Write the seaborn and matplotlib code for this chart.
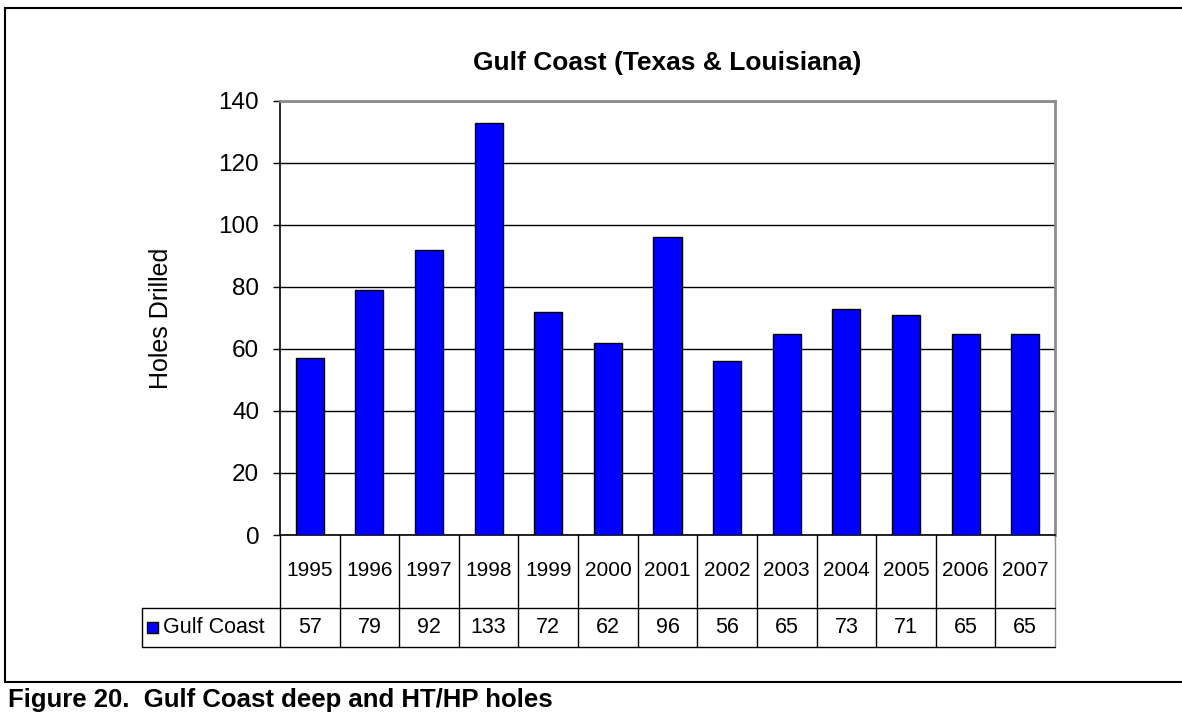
import matplotlib
matplotlib.use("Agg")
import matplotlib.pyplot as plt
from matplotlib.lines import Line2D
from matplotlib.patches import Rectangle
from matplotlib.transforms import blended_transform_factory
import seaborn as sns
import pandas as pd

# Holes drilled per year
years = ["1995", "1996", "1997", "1998", "1999", "2000", "2001",
         "2002", "2003", "2004", "2005", "2006", "2007"]
holes = [57, 79, 92, 133, 72, 62, 96, 56, 65, 73, 71, 65, 65]
series_name = "Gulf Coast"
y_ticks = [0, 20, 40, 60, 80, 100, 120, 140]

sns.set_theme(style="white")
plt.rcParams["font.family"] = ["Liberation Sans", "DejaVu Sans"]
for key in ["text.color", "axes.labelcolor", "xtick.color", "ytick.color"]:
    plt.rcParams[key] = "black"

W, H = 1182, 713
fig = plt.figure(figsize=(W / 100, H / 100), dpi=100)
fig.patch.set_facecolor("white")

# plot area in pixel terms
px_left, px_right, px_top, px_bottom = 280, 1055, 101, 535
ax = fig.add_axes([px_left / W, 1 - px_bottom / H,
                   (px_right - px_left) / W, (px_bottom - px_top) / H])

df = pd.DataFrame({"year": years, "holes": holes})
sns.barplot(data=df, x="year", y="holes", color="#0000FF", saturation=1,
            edgecolor="black", linewidth=1.0, width=0.47, ax=ax, zorder=3)

ax.set_xlim(-0.5, len(years) - 0.5)
ax.set_ylim(0, 140)
ax.set_yticks(y_ticks)
ax.set_yticklabels([str(t) for t in y_ticks], fontsize=17.5)
ax.tick_params(axis="y", direction="out", length=5, width=1, color="black",
               pad=10, left=True)
ax.tick_params(axis="x", bottom=False, labelbottom=False)
ax.set_xlabel("")
ax.set_ylabel("Holes Drilled", fontsize=18, labelpad=33)

ax.yaxis.grid(True, color="black", linewidth=1.0, zorder=0)
ax.set_axisbelow(True)
for side in ["top", "right"]:
    ax.spines[side].set_color("#8c8c8c")
    ax.spines[side].set_linewidth(2)
ax.spines["left"].set_color("black")
ax.spines["left"].set_linewidth(1.2)
ax.spines["bottom"].set_color("black")
ax.spines["bottom"].set_linewidth(1.2)

ax.set_title("Gulf Coast (Texas & Louisiana)", fontsize=19,
             fontweight="bold", pad=22)

# data table under the axis
plot_h = px_bottom - px_top
plot_w = px_right - px_left
def ay(py):
    return (px_bottom - py) / plot_h
def ax_x(px):
    return (px - px_left) / plot_w

row1_bot = ay(608)
row2_bot = ay(647)
leg_left = ax_x(142)
bt = blended_transform_factory(ax.transData, ax.transAxes)
line_kw = dict(color="black", linewidth=1.0, clip_on=False)

# column separators
for i in range(len(years) + 1):
    xb = i - 0.5
    col = "#8c8c8c" if i == len(years) else "black"
    ax.add_line(Line2D([xb, xb], [0, row2_bot], transform=bt,
                       **{**line_kw, "color": col}))
# horizontal rules
ax.add_line(Line2D([leg_left, 1], [row1_bot, row1_bot],
                   transform=ax.transAxes, **line_kw))
ax.add_line(Line2D([leg_left, 1], [row2_bot, row2_bot],
                   transform=ax.transAxes, **line_kw))
ax.add_line(Line2D([leg_left, leg_left], [row1_bot, row2_bot],
                   transform=ax.transAxes, **line_kw))

mid1 = ay(571)
mid2 = ay(627.5)
for i, (yr, v) in enumerate(zip(years, holes)):
    ax.text(i, mid1, yr, transform=bt, ha="center", va="center", fontsize=15)
    ax.text(i, mid2, str(v), transform=bt, ha="center", va="center",
            fontsize=15.5)

# legend key in the table
ax.add_patch(Rectangle((ax_x(147), ay(633)), 11 / plot_w, 11 / plot_h,
                       transform=ax.transAxes, facecolor="#0000FF",
                       edgecolor="black", linewidth=1.0, clip_on=False))
ax.text(ax_x(163), mid2, series_name, transform=ax.transAxes,
        ha="left", va="center", fontsize=15.5)

# frame around the chart
def fx(px):
    return px / W
def fy(py):
    return 1 - py / H
fig.add_artist(Line2D([fx(5), fx(5)], [fy(8), fy(682)], color="black",
                      linewidth=1.5, transform=fig.transFigure))
fig.add_artist(Line2D([fx(5), 1], [fy(8), fy(8)], color="black",
                      linewidth=1.5, transform=fig.transFigure))
fig.add_artist(Line2D([fx(5), 1], [fy(682), fy(682)], color="black",
                      linewidth=1.5, transform=fig.transFigure))

fig.text(fx(8), fy(707), "Figure 20.  Gulf Coast deep and HT/HP holes",
         fontsize=18.5, fontweight="bold", ha="left", va="baseline")

fig.savefig("out.png", dpi=100, facecolor="white")
